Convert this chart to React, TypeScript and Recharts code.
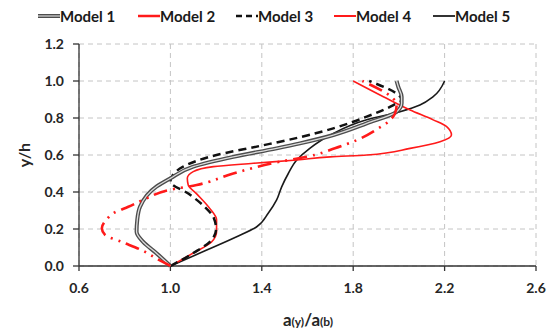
import React from 'react';
import { ScatterChart, Scatter, XAxis, YAxis, CartesianGrid } from 'recharts';

// profile points: x = a(y)/a(b), y = y/h
const model1 = [
  { x: 1.0, y: 0 }, { x: 0.94, y: 0.068 }, { x: 0.881, y: 0.13 }, { x: 0.852, y: 0.185 },
  { x: 0.855, y: 0.25 }, { x: 0.867, y: 0.32 }, { x: 0.94, y: 0.43 }, { x: 1.0, y: 0.474 },
  { x: 1.1, y: 0.537 }, { x: 1.275, y: 0.59 }, { x: 1.465, y: 0.636 }, { x: 1.567, y: 0.663 },
  { x: 1.713, y: 0.708 }, { x: 1.859, y: 0.771 }, { x: 1.99, y: 0.834 }, { x: 2.012, y: 0.88 },
  { x: 2.012, y: 0.915 }, { x: 1.997, y: 0.97 }, { x: 1.99, y: 1.0 },
];

const model2 = [
  { x: 1.0, y: 0 }, { x: 0.954, y: 0.03 }, { x: 0.874, y: 0.086 }, { x: 0.787, y: 0.13 },
  { x: 0.714, y: 0.168 }, { x: 0.7, y: 0.204 }, { x: 0.72, y: 0.25 }, { x: 0.757, y: 0.29 },
  { x: 0.816, y: 0.32 }, { x: 0.896, y: 0.366 }, { x: 0.99, y: 0.41 }, { x: 1.115, y: 0.438 },
  { x: 1.275, y: 0.5 }, { x: 1.48, y: 0.564 }, { x: 1.596, y: 0.59 }, { x: 1.72, y: 0.636 },
  { x: 1.815, y: 0.68 }, { x: 1.91, y: 0.744 }, { x: 1.954, y: 0.78 }, { x: 1.983, y: 0.825 },
  { x: 1.99, y: 0.87 }, { x: 1.84, y: 1.0 },
];

const model3 = [
  { x: 1.0, y: 0 }, { x: 1.1, y: 0.07 }, { x: 1.18, y: 0.14 }, { x: 1.2, y: 0.2 },
  { x: 1.19, y: 0.26 }, { x: 1.15, y: 0.32 }, { x: 1.08, y: 0.39 }, { x: 1.0, y: 0.456 },
  { x: 1.01, y: 0.49 }, { x: 1.056, y: 0.537 }, { x: 1.202, y: 0.6 }, { x: 1.392, y: 0.649 },
  { x: 1.567, y: 0.696 }, { x: 1.713, y: 0.744 }, { x: 1.859, y: 0.807 }, { x: 1.976, y: 0.87 },
  { x: 2.012, y: 0.897 }, { x: 1.87, y: 1.0 },
];

const model4 = [
  { x: 1.0, y: 0 }, { x: 1.1, y: 0.07 }, { x: 1.18, y: 0.13 }, { x: 1.202, y: 0.185 },
  { x: 1.202, y: 0.25 }, { x: 1.173, y: 0.31 }, { x: 1.115, y: 0.39 }, { x: 1.078, y: 0.438 },
  { x: 1.074, y: 0.474 }, { x: 1.1, y: 0.51 }, { x: 1.188, y: 0.537 }, { x: 1.363, y: 0.555 },
  { x: 1.553, y: 0.573 }, { x: 1.7, y: 0.59 }, { x: 1.86, y: 0.6 }, { x: 2.049, y: 0.636 },
  { x: 2.18, y: 0.672 }, { x: 2.23, y: 0.708 }, { x: 2.209, y: 0.753 }, { x: 2.15, y: 0.79 },
  { x: 2.049, y: 0.843 }, { x: 1.932, y: 0.915 }, { x: 1.8, y: 1.0 },
];

const model5 = [
  { x: 1.0, y: 0 }, { x: 1.159, y: 0.086 }, { x: 1.29, y: 0.158 }, { x: 1.378, y: 0.212 },
  { x: 1.428, y: 0.285 }, { x: 1.465, y: 0.357 }, { x: 1.487, y: 0.428 }, { x: 1.516, y: 0.5 },
  { x: 1.553, y: 0.573 }, { x: 1.61, y: 0.636 }, { x: 1.7, y: 0.708 }, { x: 1.859, y: 0.79 },
  { x: 2.005, y: 0.834 }, { x: 2.092, y: 0.87 }, { x: 2.15, y: 0.915 }, { x: 2.2, y: 1.0 },
];

const xTicks = [0.6, 1.0, 1.4, 1.8, 2.2, 2.6];
const yTicks = [0, 0.2, 0.4, 0.6, 0.8, 1.0, 1.2];
const legendNames = ['Model 1', 'Model 2', 'Model 3', 'Model 4', 'Model 5'];

const FONT = "Lato, 'Open Sans', sans-serif";
const noDot = () => <g />;

const LegendIcon = ({ i }: { i: number }) => {
  if (i === 0) {
    return (
      <svg width={22} height={10}>
        <line x1={0} y1={5} x2={22} y2={5} stroke="#4d4d4d" strokeWidth={4} />
        <line x1={0} y1={5} x2={22} y2={5} stroke="#d9d9d9" strokeWidth={1.2} />
      </svg>
    );
  }
  const styles = [
    null,
    { stroke: '#ff1a1a', w: 2.5, dash: undefined },
    { stroke: '#111', w: 2.5, dash: '6 4' },
    { stroke: '#ff1a1a', w: 2, dash: undefined },
    { stroke: '#333', w: 2, dash: undefined },
  ];
  const s = styles[i]!;
  return (
    <svg width={22} height={10}>
      <line x1={0} y1={5} x2={22} y2={5} stroke={s.stroke} strokeWidth={s.w} strokeDasharray={s.dash} />
    </svg>
  );
};

const legendLeft = [38, 138, 236, 334, 433];

const App = () => {
  return (
    <div style={{ position: 'absolute', left: 0, top: 0, width: 552, height: 330, background: '#fff' }}>
      {legendNames.map((name, i) => (
        <div
          key={name}
          style={{
            position: 'absolute', left: legendLeft[i], top: 6, height: 20,
            display: 'flex', alignItems: 'center', fontFamily: FONT,
            fontWeight: 700, fontSize: 15, color: '#1a1a1a', whiteSpace: 'nowrap',
          }}
        >
          <LegendIcon i={i} />
          <span>{name}</span>
        </div>
      ))}
      <ScatterChart width={552} height={330} margin={{ top: 44, right: 16, left: 0, bottom: 0 }}>
        <CartesianGrid stroke="#c4c4c4" strokeDasharray="5 4" strokeWidth={1} />
        <XAxis
          type="number"
          dataKey="x"
          domain={[0.6, 2.6]}
          ticks={xTicks}
          tickFormatter={(v: number) => v.toFixed(1)}
          height={64}
          tickSize={5}
          tickMargin={12}
          stroke="#333"
          strokeWidth={1.3}
          tick={{ fill: '#262626', fontFamily: FONT, fontWeight: 700, fontSize: 14 }}
          label={{
            content: () => (
              <text x={308} y={326} textAnchor="middle" fontFamily={FONT} fontWeight={700} fill="#262626">
                <tspan fontSize={17}>a</tspan>
                <tspan fontSize={12}>(y)</tspan>
                <tspan fontSize={17}>/a</tspan>
                <tspan fontSize={12}>(b)</tspan>
              </text>
            ),
          }}
        />
        <YAxis
          type="number"
          dataKey="y"
          domain={[0, 1.2]}
          ticks={yTicks}
          tickFormatter={(v: number) => v.toFixed(1)}
          width={79}
          tickSize={6}
          tickMargin={9}
          stroke="#333"
          strokeWidth={1.3}
          tick={{ fill: '#262626', fontFamily: FONT, fontWeight: 700, fontSize: 14 }}
          label={{
            content: () => (
              <text
                x={23} y={155} textAnchor="middle" dominantBaseline="central"
                transform="rotate(-90 23 155)" fontFamily={FONT} fontWeight={700}
                fontSize={16} fill="#262626"
              >
                y/h
              </text>
            ),
          }}
        />
        <Scatter data={model5} line={{ stroke: '#1a1a1a', strokeWidth: 1.6 }} lineType="joint"
          lineJointType="monotoneY" shape={noDot} isAnimationActive={false} />
        <Scatter data={model4} line={{ stroke: '#ff1a1a', strokeWidth: 1.6 }} lineType="joint"
          lineJointType="monotoneY" shape={noDot} isAnimationActive={false} />
        <Scatter data={model3} line={{ stroke: '#111', strokeWidth: 2.5, strokeDasharray: '8 5' }} lineType="joint"
          lineJointType="monotoneY" shape={noDot} isAnimationActive={false} />
        <Scatter data={model1} line={{ stroke: '#4d4d4d', strokeWidth: 4 }} lineType="joint"
          lineJointType="monotoneY" shape={noDot} isAnimationActive={false} />
        <Scatter data={model1} line={{ stroke: '#dcdcdc', strokeWidth: 1.3 }} lineType="joint"
          lineJointType="monotoneY" shape={noDot} isAnimationActive={false} />
        <Scatter data={model2} line={{ stroke: '#ff1a1a', strokeWidth: 2.6, strokeDasharray: '14 6 2 6 2 6' }} lineType="joint"
          lineJointType="monotoneY" shape={noDot} isAnimationActive={false} />
      </ScatterChart>
    </div>
  );
};

export default App;
